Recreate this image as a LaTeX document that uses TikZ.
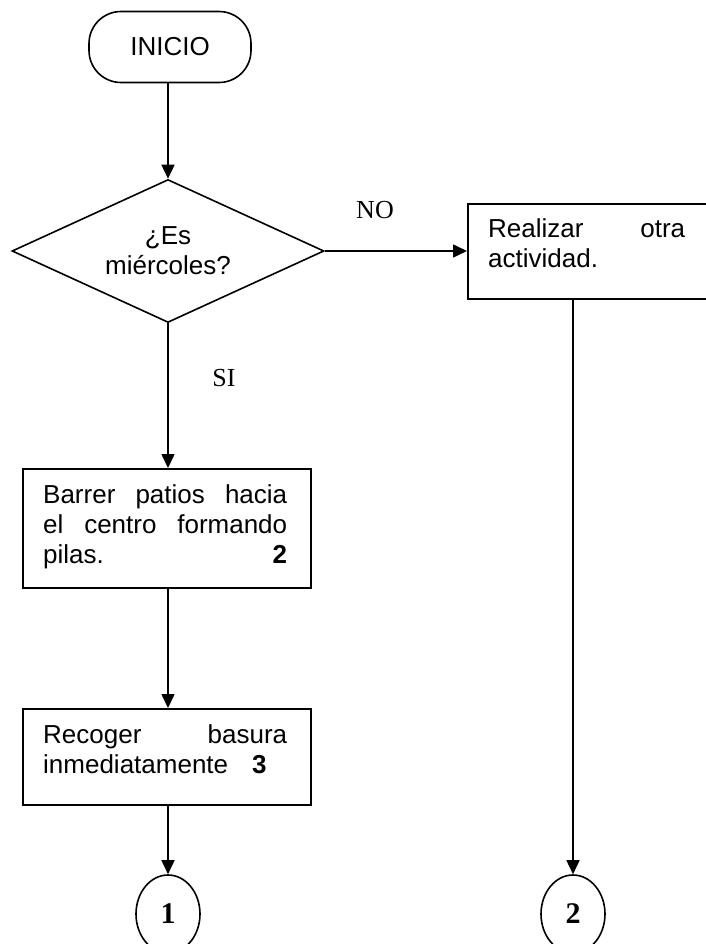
\documentclass[tikz,border=0pt]{standalone}
\usepackage{fontspec}
\setmainfont{Liberation Sans}
\newfontfamily\tnr{Liberation Serif}
\usetikzlibrary{shapes.geometric,arrows.meta}
\begin{document}
\begin{tikzpicture}[x=1pt,y=-1pt,
  every node/.style={font=\fontsize{26}{30}\selectfont},
  arr/.style={line width=1.6pt,-{Triangle[length=14pt,width=13pt]}},
  boxshape/.style={draw,line width=1.6pt,rectangle,inner sep=0pt,anchor=north west},
  boxtext/.style={inner sep=0pt,anchor=north west,align=left},
  lbl/.style={font=\tnr\fontsize{26}{30}\selectfont,inner sep=0pt},
  conn/.style={draw,ellipse,line width=1.6pt,minimum width=64pt,minimum height=78pt,inner sep=0pt,font=\tnr\bfseries\fontsize{30}{30}\selectfont}
]
\useasboundingbox (0,0) rectangle (705,944);
\fill[white] (0,0) rectangle (705,944);

% start terminator
\node[draw,line width=1.6pt,rectangle,rounded corners=32pt,minimum width=162pt,minimum height=71pt,inner sep=0pt] (start) at (170,47) {INICIO};

% decision
\node[draw,diamond,aspect=2.18,line width=1.6pt,minimum width=312pt,minimum height=143pt,inner sep=0pt,align=center] (dec) at (168,251) {¿Es\\miércoles?};

% process boxes
\node[boxshape,minimum width=260pt,minimum height=95pt] (r1) at (467,203) {};
\node[boxtext,text width=197pt] (r1t) at (488,218) {Realizar\hfill otra\\actividad.};

\node[boxshape,minimum width=288pt,minimum height=119pt] (b1) at (22,468) {};
\node[boxtext,text width=244pt] (b1t) at (43,484) {Barrer\hfill patios\hfill hacia\\el\hfill centro\hfill formando\\pilas.\hfill\textbf{2}};

\node[boxshape,minimum width=288pt,minimum height=96pt] (b2) at (22,708) {};
\node[boxtext,text width=244pt] (b2t) at (43,724) {Recoger\hfill basura\\inmediatamente\hspace{24pt}\textbf{3}};

% connectors (off-page)
\node[conn] (c1) at (168,914) {1};
\node[conn] (c2) at (573,914) {2};

% labels
\node[lbl] (no) at (375,210) {NO};
\node[lbl] (si) at (224,378) {SI};

% arrows
\draw[arr] (dec.north |- start.south) -- (dec.north);
\draw[arr] (dec.east) -- (dec.east -| r1.west);
\draw[arr] (dec.south) -- (dec.south |- b1.north);
\draw[arr] (dec.south |- b1.south) -- (dec.south |- b2.north);
\draw[arr] (dec.south |- b2.south) -- (c1.north);
\draw[arr] (c2 |- r1.south) -- (c2.north);
\end{tikzpicture}
\end{document}
